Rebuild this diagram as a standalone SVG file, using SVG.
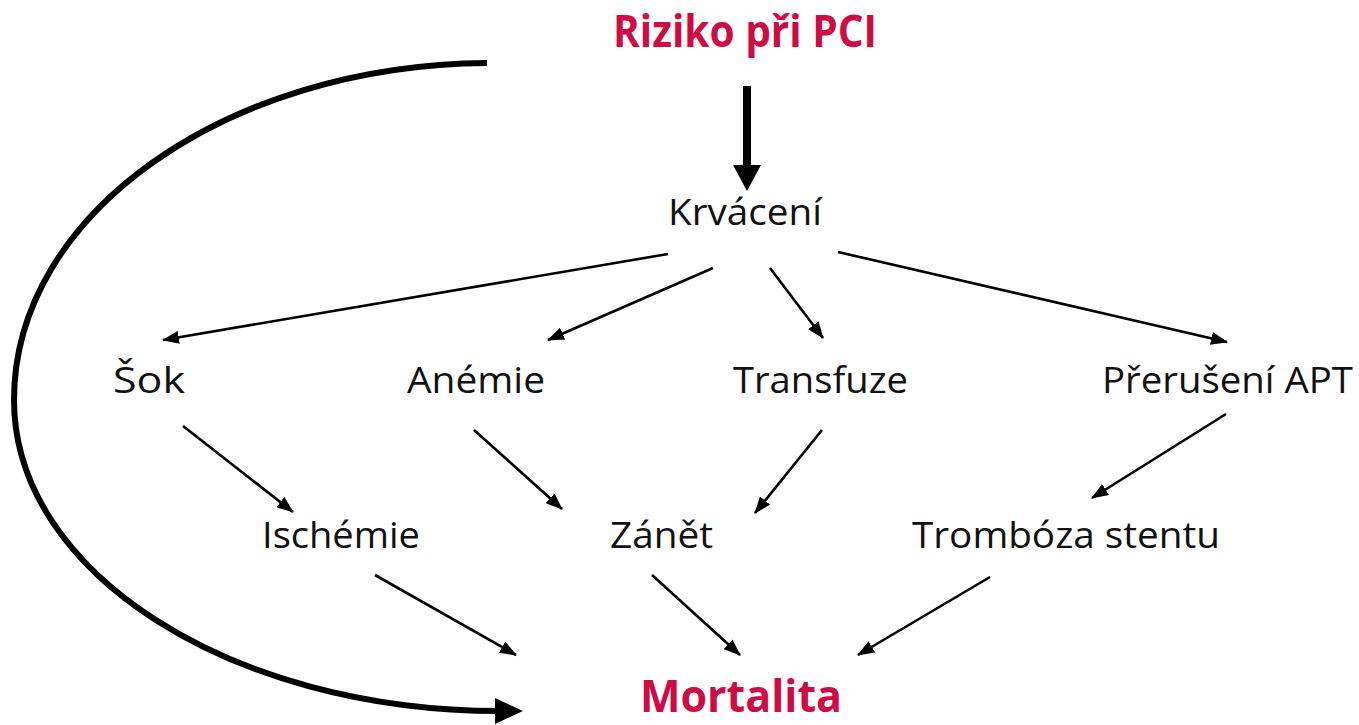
<svg xmlns="http://www.w3.org/2000/svg" width="1359" height="725" viewBox="0 0 1359 725">
<defs>
<style>
.t{font-family:"Open Sans","Noto Sans","Liberation Sans",sans-serif;font-size:37px;fill:#111}
.h{font-family:"Open Sans","Noto Sans","Liberation Sans",sans-serif;font-size:44px;font-weight:bold;fill:#CF0A45}
.c{stroke:#000;stroke-width:2.6;fill:none;marker-end:url(#ah)}
</style>
<marker id="ah" viewBox="0 0 17 13" refX="16" refY="6.5" markerWidth="17" markerHeight="13" markerUnits="userSpaceOnUse" orient="auto">
<path d="M0,0 L17,6.5 L0,13 Z" fill="#000"/>
</marker>
</defs>
<rect width="1359" height="725" fill="#fff"/>
<g id="connectors">
<line class="c" x1="668" y1="254" x2="163" y2="340"/>
<line class="c" x1="713" y1="268" x2="548" y2="340"/>
<line class="c" x1="770" y1="268" x2="823" y2="338"/>
<line class="c" x1="838" y1="252" x2="1227" y2="342"/>
<line class="c" x1="183" y1="426" x2="293" y2="512"/>
<line class="c" x1="474" y1="430" x2="562" y2="509"/>
<line class="c" x1="822" y1="430" x2="755" y2="513"/>
<line class="c" x1="1226" y1="414" x2="1092" y2="498"/>
<line class="c" x1="375" y1="575" x2="516" y2="655"/>
<line class="c" x1="652" y1="575" x2="740" y2="655"/>
<line class="c" x1="990" y1="577" x2="858" y2="655"/>
<line x1="747" y1="86" x2="747" y2="168" stroke="#000" stroke-width="8"/>
<polygon points="733,165 761,165 747,191" fill="#000"/>
<path d="M487,63 C226,65 14,214 14,400 C14,572 230,711 500,711" stroke="#000" stroke-width="6" fill="none"/>
<polygon points="495,698 523,711 495,724" fill="#000"/>
</g>
<g id="n-riziko"><text class="h" x="613" y="47" textLength="264" lengthAdjust="spacingAndGlyphs">Riziko při PCI</text></g>
<g id="n-krvaceni"><text class="t" x="668" y="225" textLength="154" lengthAdjust="spacingAndGlyphs">Krvácení</text></g>
<g id="n-sok"><text class="t" x="113" y="393" textLength="72" lengthAdjust="spacingAndGlyphs">Šok</text></g>
<g id="n-anemie"><text class="t" x="407" y="393" textLength="138" lengthAdjust="spacingAndGlyphs">Anémie</text></g>
<g id="n-transfuze"><text class="t" x="733" y="393" textLength="175" lengthAdjust="spacingAndGlyphs">Transfuze</text></g>
<g id="n-preruseni"><text class="t" x="1102" y="393" textLength="251" lengthAdjust="spacingAndGlyphs">Přerušení APT</text></g>
<g id="n-ischemie"><text class="t" x="262" y="548" textLength="158" lengthAdjust="spacingAndGlyphs">Ischémie</text></g>
<g id="n-zanet"><text class="t" x="610" y="548" textLength="103" lengthAdjust="spacingAndGlyphs">Zánět</text></g>
<g id="n-tromboza"><text class="t" x="912" y="548" textLength="308" lengthAdjust="spacingAndGlyphs">Trombóza stentu</text></g>
<g id="n-mortalita"><text class="h" x="640" y="712" font-size="42" textLength="202" lengthAdjust="spacingAndGlyphs">Mortalita</text></g>
</svg>
